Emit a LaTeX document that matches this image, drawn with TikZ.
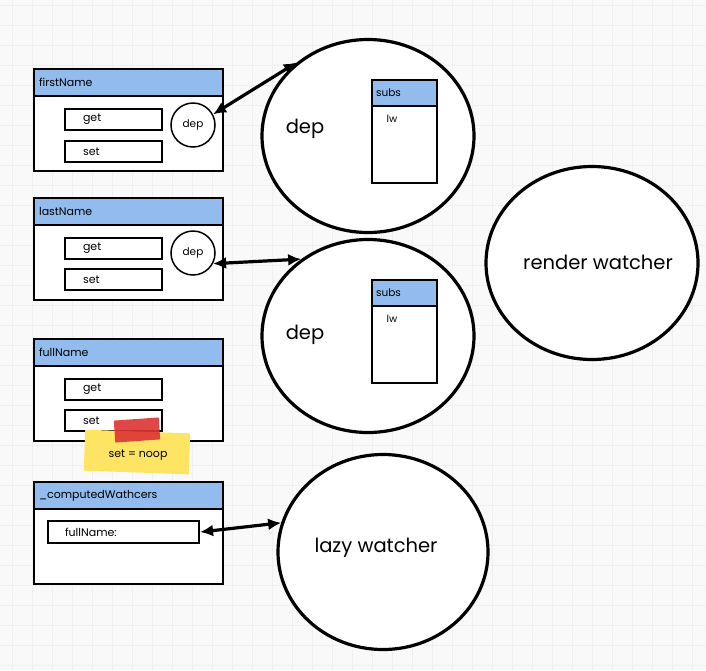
\documentclass[tikz,border=0pt]{standalone}
\usepackage{fontspec}
\setmainfont{Poppins}
\usetikzlibrary{arrows.meta,shapes.geometric}

\begin{document}
\begin{tikzpicture}[x=1pt, y=-1pt, >=Latex, every node/.style={font=\fontsize{11}{13}\selectfont},
  panel/.style={draw, line width=2.1pt, fill=white, minimum width=189, minimum height=102, inner sep=0, anchor=north west},
  header/.style={draw, line width=2.1pt, fill=Header, text width=179, inner xsep=5, align=left, minimum height=27, anchor=north west},
  field/.style={draw, line width=2.1pt, fill=white, text width=61, inner xsep=18, align=left, minimum height=21, inner ysep=0, anchor=north west},
  depdot/.style={draw, circle, line width=1.5pt, fill=white, minimum size=44, inner sep=0, font=\fontsize{10.5}{12}\selectfont},
  bigdot/.style={draw, ellipse, line width=3.2pt, fill=white, minimum width=212, minimum height=193, inner sep=0},
  bigtext/.style={font=\fontsize{19.5}{22}\selectfont},
  subsbox/.style={draw, line width=2.1pt, fill=white, minimum width=65, minimum height=103, inner sep=0, anchor=north west},
  subshead/.style={draw, line width=2.1pt, fill=Header, text width=57, inner xsep=4, align=left, minimum height=26, anchor=north west, font=\fontsize{10.5}{12}\selectfont},
  link/.style={<->, line width=3.2pt, >={Latex[length=13pt, width=12pt]}}]
\definecolor{Canvas}{HTML}{F9F9F9}\definecolor{GridLine}{HTML}{EFEFEF}\definecolor{Header}{HTML}{92BBEE}\definecolor{Note}{HTML}{FEE463}\definecolor{Tape}{HTML}{DD3333}
\useasboundingbox (0,0) rectangle (706,670);
\fill[Canvas] (0,0) rectangle (706,670);
\foreach \gx in {12,32,...,692} \draw[GridLine, line width=1pt] (\gx,0) -- (\gx,670);
\foreach \gy in {5,25,...,665} \draw[GridLine, line width=1pt] (0,\gy) -- (706,\gy);
% object properties
\node[panel] (fnbody) at (33,68) {}; \node[header] (fnhead) at (33,68) {firstName};
\node[field] (fnget) at (64,108) {get}; \node[field] (fnset) at (64,140) {set};
\node[depdot] (depa) at (193,125) {dep};
\node[panel] (lnbody) at (33,197) {}; \node[header] (lnhead) at (33,197) {lastName};
\node[field] (lnget) at (64,237) {get}; \node[field] (lnset) at (64,268) {set};
\node[depdot] (depb) at (193,253) {dep};
\node[panel] (fullbody) at (33,338) {}; \node[header] (fullhead) at (33,338) {fullName};
\node[field] (fullget) at (64,378) {get}; \node[field] (fullset) at (64,409) {set};
\node[fill=Note, minimum width=105, minimum height=41, rotate=-2] (note) at (137,452) {};
\node[fill=Tape, fill opacity=.9, minimum width=45, minimum height=22, rotate=4] (tape) at (137,430) {};
\node (notetext) at (138,455) {set = noop};
\node[panel] (cwbody) at (33,481) {}; \node[header] (cwhead) at (33,481) {\_computedWathcers};
\node[field, text width=117, inner xsep=17, minimum height=22] (cwfull) at (47,520) {fullName:};
% deps and watchers
\node[bigdot] (bigdepa) at (368,136) {}; \node[bigtext] (bigdepatext) at (305,129) {dep};
\node[subsbox] (subsabody) at (371,79) {}; \node[subshead] (subsahead) at (371,79) {subs};
\node[font=\fontsize{10}{12}\selectfont] (subsalw) at (392,119) {lw};
\node[bigdot] (bigdepb) at (368,336) {}; \node[bigtext] (bigdepbtext) at (305,335) {dep};
\node[subsbox] (subsbbody) at (371,279) {}; \node[subshead] (subsbhead) at (371,279) {subs};
\node[font=\fontsize{10}{12}\selectfont] (subsblw) at (392,319) {lw};
\node[bigdot] (render) at (592,263) {}; \node[bigtext] (rendertext) at (598,262) {render watcher};
\node[bigdot, minimum width=210, minimum height=195] (lazy) at (383,552) {}; \node[bigtext] (lazytext) at (376,548) {lazy watcher};
\draw[link] (depa.28) -- (bigdepa.134);
\draw[link] (depb.-28) -- (bigdepb.131);
\draw[link] (cwfull.east) -- (lazy.164);
\end{tikzpicture}
\end{document}
